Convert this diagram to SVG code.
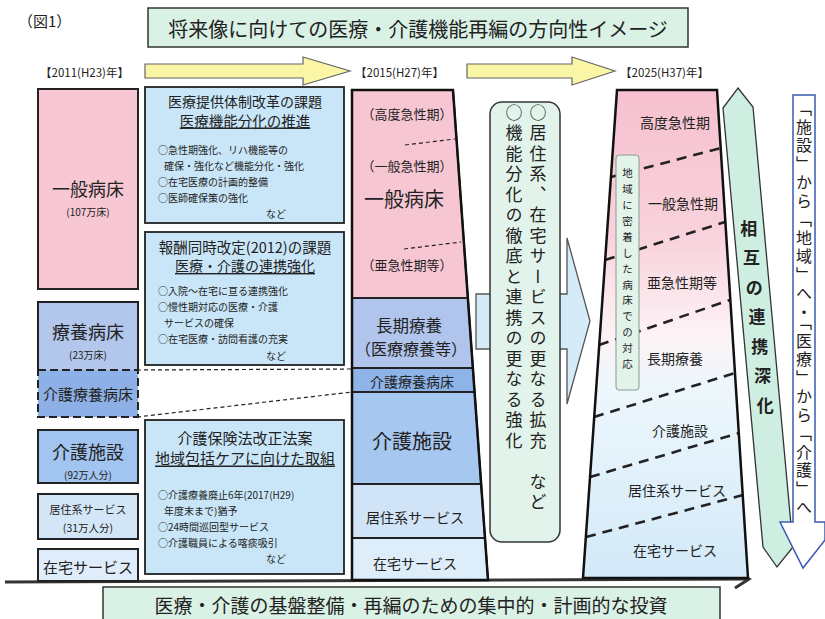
<svg xmlns="http://www.w3.org/2000/svg" width="825" height="619" viewBox="0 0 825 619">
<style>
text{font-family:"Noto Sans CJK JP","Noto Sans",sans-serif;fill:#222;dominant-baseline:central}
.c{text-anchor:middle}
.bx{stroke:#222;stroke-width:2}
.mid{fill:#c9e6f8;stroke:#222;stroke-width:1.8}
.b{font-size:10px}
.u{text-decoration:underline}
.vt{writing-mode:vertical-rl;dominant-baseline:central}
.dl{fill:none;stroke:#222;stroke-width:1.2;stroke-dasharray:4 3}
.dk{fill:none;stroke:#222;stroke-width:2.6;stroke-dasharray:10 7}
.sec{stroke:#222;stroke-width:1.8}
</style>
<defs>
<linearGradient id="g25" x1="0" y1="0" x2="0" y2="1">
<stop offset="0" stop-color="#f6c0cf"/>
<stop offset="0.3" stop-color="#f8d2dc"/>
<stop offset="0.5" stop-color="#fdf2f5"/>
<stop offset="0.6" stop-color="#eef7fc"/>
<stop offset="1" stop-color="#d2e9f8"/>
</linearGradient>
</defs>
<rect width="825" height="619" fill="#ffffff"/>

<g id="header">
<text x="18" y="20" font-size="15">（図1）</text>
<rect x="148" y="8" width="540" height="39" fill="#daf1e5" stroke="#333" stroke-width="1.5"/>
<text x="418" y="28" class="c" font-size="20">将来像に向けての医療・介護機能再編の方向性イメージ</text>
<text x="40" y="72" font-size="11.5">【2011(H23)年】</text>
<text x="355" y="72" font-size="11.5">【2015(H27)年】</text>
<text x="620" y="72" font-size="11.5">【2025(H37)年】</text>
</g>

<g id="connectors">
<polygon points="145,64 303,64 303,57 350,71 303,85 303,78 145,78" fill="#fbf5a6" stroke="#666" stroke-width="1.2"/>
<polygon points="467,64 572,64 572,57 615,71 572,85 572,78 467,78" fill="#fbf5a6" stroke="#666" stroke-width="1.2"/>
<line x1="137" y1="370" x2="352" y2="369" class="dl"/>
<line x1="137" y1="417" x2="352" y2="392" class="dl"/>
<polygon points="476,294 567,294 567,238 590,321 567,404 567,349 476,349" fill="#d5ecf8" stroke="#555" stroke-width="1.3"/>
<line x1="5" y1="582" x2="748" y2="579" stroke="#333" stroke-width="3"/>
<polyline points="735,571 749,579 735,588" fill="none" stroke="#333" stroke-width="3"/>
</g>

<g id="y2011-ippan">
<rect x="38" y="89" width="100" height="200" fill="#f7c7d3" class="bx"/>
<text x="88" y="188" class="c" font-size="18">一般病床</text>
<text x="88" y="211" class="c" font-size="10">(107万床)</text>
</g>
<g id="y2011-ryoyo">
<path d="M38,370 V302 H138 V370" fill="#b3c6ec" class="bx"/>
<text x="88" y="331" class="c" font-size="18">療養病床</text>
<text x="88" y="354" class="c" font-size="10">(23万床)</text>
</g>
<g id="y2011-kaigoryoyo">
<rect x="38" y="370" width="100" height="47" fill="#8db1e6" stroke="#222" stroke-width="2" stroke-dasharray="8 4"/>
<text x="88" y="393" class="c" font-size="15">介護療養病床</text>
</g>
<g id="y2011-kaigoshisetsu">
<rect x="38" y="430" width="100" height="53" fill="#a2c4f0" class="bx"/>
<text x="88" y="451" class="c" font-size="18">介護施設</text>
<text x="88" y="474" class="c" font-size="10">(92万人分)</text>
</g>
<g id="y2011-kyoju">
<rect x="38" y="494" width="100" height="45" fill="#d3e6f8" class="bx"/>
<text x="88" y="509" class="c" font-size="11">居住系サービス</text>
<text x="88" y="527" class="c" font-size="10.5">(31万人分)</text>
</g>
<g id="y2011-zaitaku">
<rect x="38" y="549" width="100" height="32" fill="#dfedfa" class="bx"/>
<text x="88" y="566" class="c" font-size="15">在宅サービス</text>
</g>

<g id="issue-iryo">
<rect x="145" y="87" width="199" height="136" class="mid"/>
<text x="245" y="101" class="c" font-size="14">医療提供体制改革の課題</text>
<text x="245" y="120" class="c u" font-size="14.5">医療機能分化の推進</text>
<text x="158" y="149" class="b">○急性期強化、リハ機能等の</text>
<text x="164" y="165" class="b">確保・強化など機能分化・強化</text>
<text x="158" y="181" class="b">○在宅医療の計画的整備</text>
<text x="158" y="197" class="b">○医師確保策の強化</text>
<text x="266" y="213" class="b">など</text>
</g>
<g id="issue-hoshu">
<rect x="145" y="232" width="199" height="133" class="mid"/>
<text x="245" y="246" class="c" font-size="14.5">報酬同時改定(2012)の課題</text>
<text x="245" y="265" class="c u" font-size="14">医療・介護の連携強化</text>
<text x="158" y="290" class="b">○入院～在宅に亘る連携強化</text>
<text x="158" y="306" class="b">○慢性期対応の医療・介護</text>
<text x="164" y="322" class="b">サービスの確保</text>
<text x="158" y="338" class="b">○在宅医療・訪問看護の充実</text>
<text x="266" y="355" class="b">など</text>
</g>
<g id="issue-kaigo">
<rect x="145" y="420" width="199" height="154" class="mid"/>
<text x="245" y="437" class="c" font-size="15">介護保険法改正法案</text>
<text x="245" y="457" class="c u" font-size="15">地域包括ケアに向けた取組</text>
<text x="158" y="494" class="b">○介護療養廃止6年(2017(H29)</text>
<text x="164" y="510" class="b">年度末まで)猶予</text>
<text x="158" y="526" class="b">○24時間巡回型サービス</text>
<text x="158" y="542" class="b">○介護職員による喀痰吸引</text>
<text x="266" y="558" class="b">など</text>
</g>

<g id="y2015">
<polygon points="352,90 453,90 467.9,298 352,298" fill="#f7c6d3" class="sec"/>
<polygon points="352,298 467.9,298 472.9,368 352,368" fill="#b1c4ec" class="sec"/>
<polygon points="352,368 472.9,368 474.6,392 352,392" fill="#8db3e8" class="sec"/>
<polygon points="352,392 474.6,392 481.1,484 352,484" fill="#a6c7f0" class="sec"/>
<polygon points="352,484 481.1,484 485,538 352,538" fill="#d0e3f7" class="sec"/>
<polygon points="352,538 485,538 488,580 352,580" fill="#ddedf9" class="sec"/>
<polygon points="352,90 453,90 488,580 352,580" fill="none" stroke="#111" stroke-width="2.5"/>
<line x1="405" y1="145" x2="455" y2="139" class="dl"/>
<line x1="404" y1="249" x2="461" y2="242" class="dl"/>
<text x="407" y="113" class="c" font-size="13">（高度急性期）</text>
<text x="407" y="165" class="c" font-size="13">（一般急性期）</text>
<text x="404" y="198" class="c" font-size="20">一般病床</text>
<text x="407" y="264" class="c" font-size="13">（亜急性期等）</text>
<text x="409" y="325" class="c" font-size="16.5">長期療養</text>
<text x="411" y="348" class="c" font-size="16">（医療療養等）</text>
<text x="412" y="381" class="c" font-size="14">介護療養病床</text>
<text x="412" y="440" class="c" font-size="20">介護施設</text>
<text x="415" y="517" class="c" font-size="14">居住系サービス</text>
<text x="415" y="563" class="c" font-size="14">在宅サービス</text>
</g>

<g id="policy">
<rect x="490" y="102" width="70" height="440" rx="12" fill="#e1f3ea" stroke="#333" stroke-width="1.5"/>
<text x="538" y="104" class="vt" font-size="17" letter-spacing="3.5">○居住系、在宅サービスの更なる拡充　など</text>
<text x="514" y="104" class="vt" font-size="17" letter-spacing="3.5">○機能分化の徹底と連携の更なる強化</text>
</g>

<g id="y2025">
<polygon points="617,90 717,90 748,578 583,578" fill="url(#g25)"/>
<line x1="611" y1="177" x2="721" y2="148" class="dk"/>
<line x1="605" y1="260" x2="725" y2="222" class="dk"/>
<line x1="599" y1="345" x2="730" y2="300" class="dk"/>
<line x1="594" y1="417" x2="735" y2="373" class="dk"/>
<line x1="590" y1="477" x2="739" y2="433" class="dk"/>
<line x1="586" y1="537" x2="743" y2="495" class="dk"/>
<polygon points="617,90 717,90 748,578 583,578" fill="none" stroke="#111" stroke-width="2.5"/>
<text x="675" y="122" class="c" font-size="14">高度急性期</text>
<text x="683" y="203" class="c" font-size="14">一般急性期</text>
<text x="682" y="282" class="c" font-size="14">亜急性期等</text>
<text x="675" y="358" class="c" font-size="14">長期療養</text>
<text x="680" y="430" class="c" font-size="14">介護施設</text>
<text x="677" y="490" class="c" font-size="14">居住系サービス</text>
<text x="675" y="550" class="c" font-size="14">在宅サービス</text>
</g>
<g id="local-beds">
<rect x="616" y="155" width="23" height="235" rx="3" fill="#e2f3ea" stroke="#8a9a90" stroke-width="1"/>
<text x="627.5" y="168" class="vt" font-size="10.5" letter-spacing="5.4">地域に密着した病床での対応</text>
</g>

<g id="mutual">
<polygon points="738,88 753,107 793,547 777,567 763,547 723,108" fill="#cdeee0" stroke="#333" stroke-width="1.3"/>
<text class="c" font-size="17" font-weight="bold" x="748.7 751.5 754.3 757 759.8 762.5 765.3" y="227 256 286 315 345 374 404">相互の連携深化</text>
</g>

<g id="shift">
<polygon points="793,95 815,95 815,522 825,522 825,540 803,568 780,522 793,522" fill="#ffffff" stroke="#3a5bb0" stroke-width="1.5"/>
<text x="804" y="100" class="vt" font-size="16" letter-spacing="2.5">「施設」から「地域」へ・「医療」から「介護」へ</text>
</g>

<g id="investment">
<rect x="103" y="587" width="617" height="40" fill="#daf1e5" stroke="#333" stroke-width="1.5"/>
<text x="411" y="604" class="c" font-size="19">医療・介護の基盤整備・再編のための集中的・計画的な投資</text>
</g>
</svg>
